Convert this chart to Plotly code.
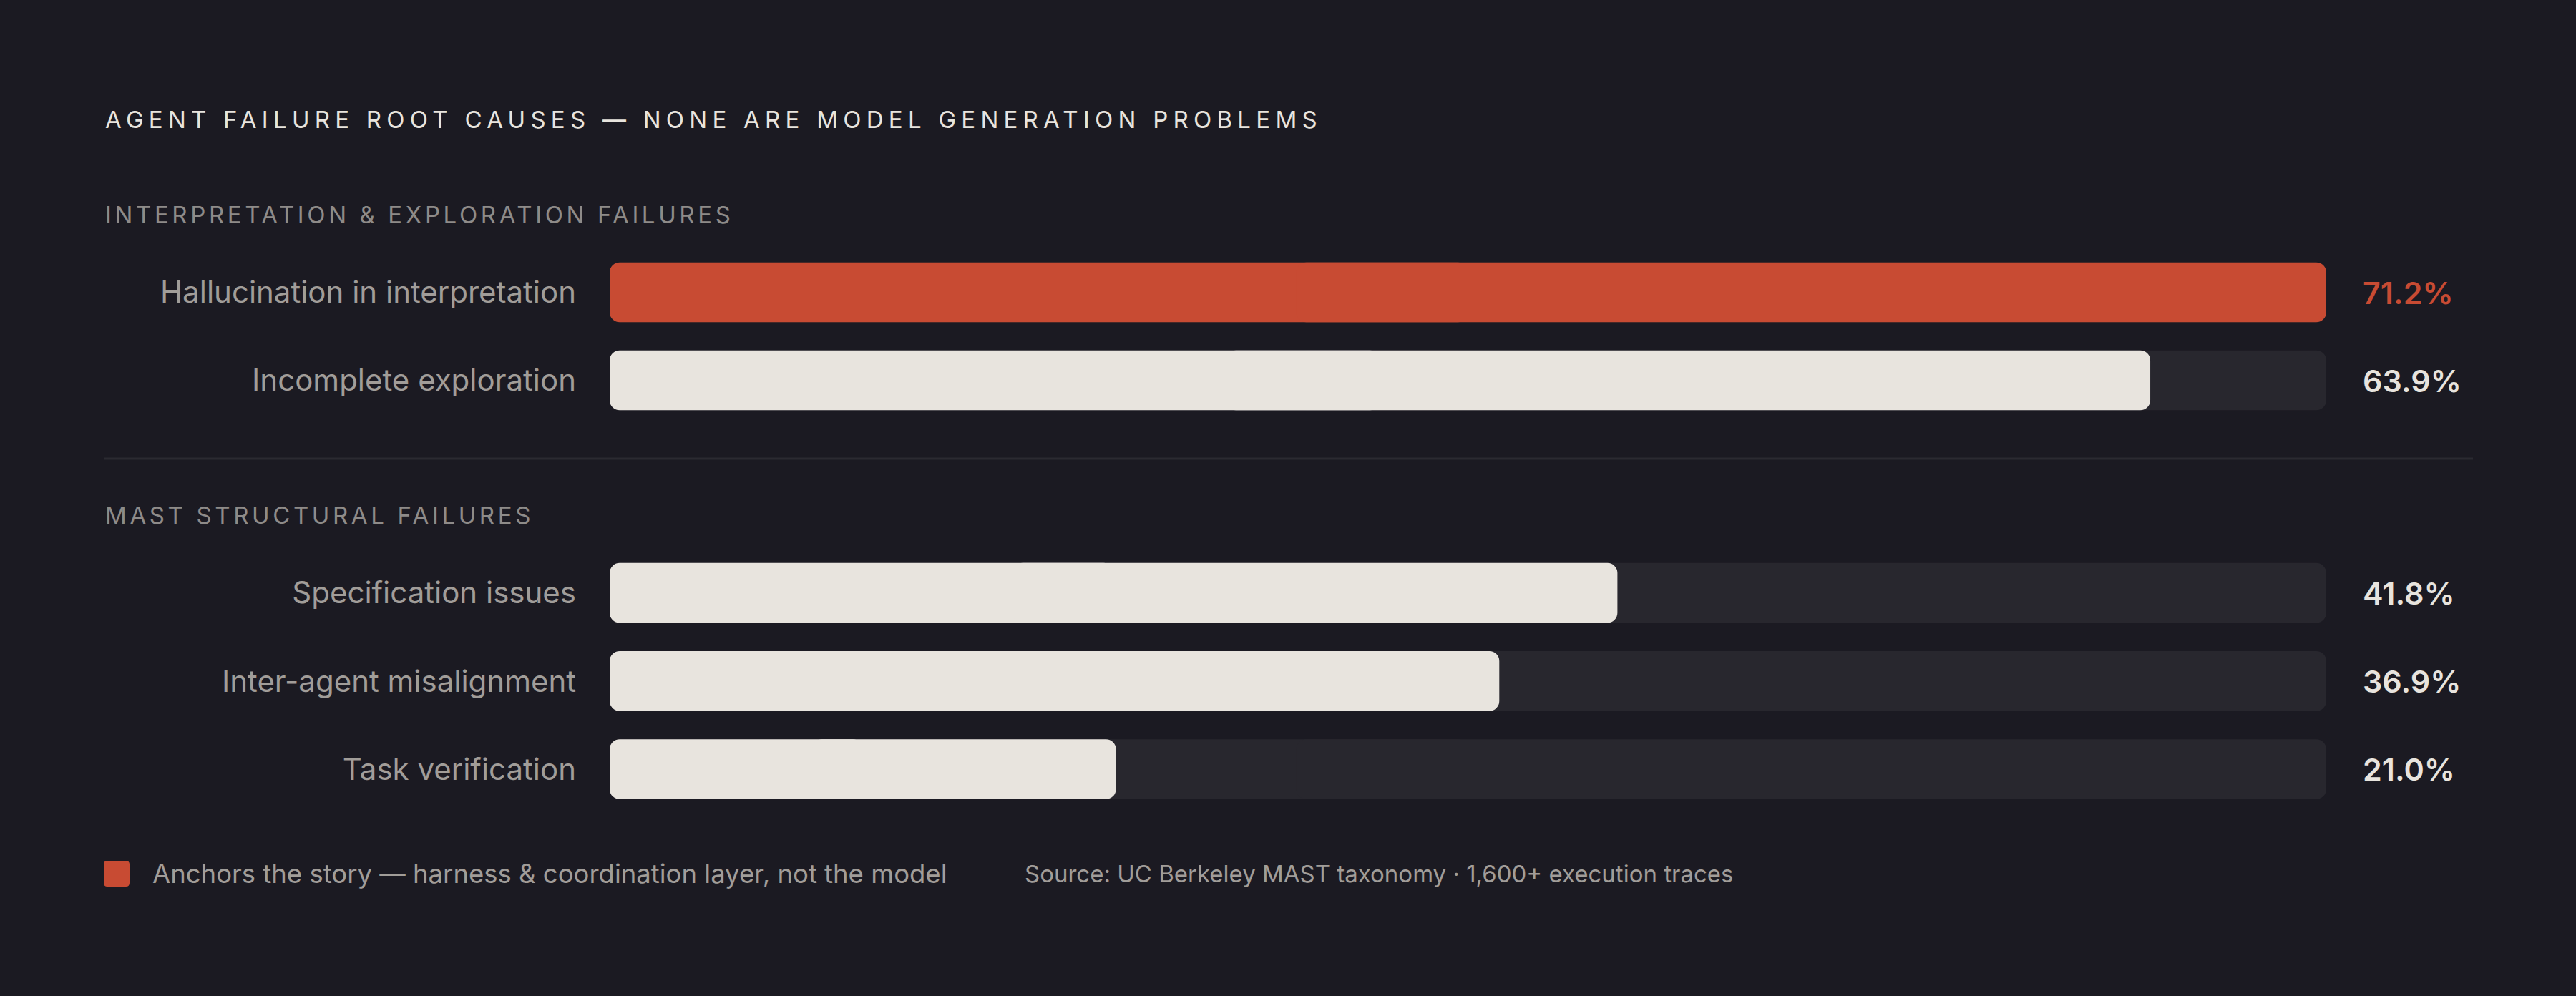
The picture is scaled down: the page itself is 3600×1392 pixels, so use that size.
import plotly.graph_objects as go

# Data
title_text = "AGENT FAILURE ROOT CAUSES — NONE ARE MODEL GENERATION PROBLEMS"
section_names = ["INTERPRETATION & EXPLORATION FAILURES", "MAST STRUCTURAL FAILURES"]

group1_labels = ["Hallucination in interpretation", "Incomplete exploration"]
group1_values = [71.2, 63.9]

group2_labels = ["Specification issues", "Inter-agent misalignment", "Task verification"]
group2_values = [41.8, 36.9, 21.0]

highlight = "Hallucination in interpretation"
legend_note = "Anchors the story — harness & coordination layer, not the model"
source_note = "Source: UC Berkeley MAST taxonomy · 1,600+ execution traces"

# Colours
BG = "#1b1a22"
TRACK = "#28272e"
BAR = "#e8e4de"
ACCENT = "#c84b33"
LABEL = "#a19d99"
SECTION = "#8e8b89"
RULE = "#2b2a31"
FONT = "Inter"

W, H = 3600, 1392
scale_max = max(group1_values + group2_values)
RADIUS = 14
BAR_W = 0.68

fig = go.Figure()


def rounded_bar(labels, lengths, colors, xa, ya, hover=True):
    # plotly only rounds the far end of a bar, so each bar is drawn as a
    # left half growing leftwards from its midpoint plus a right part that
    # overlaps it a little (no seam) -> both ends come out rounded
    mids = [v / 2 for v in lengths]
    starts = [m * 0.8 for m in mids]
    common = dict(y=labels, orientation="h", width=BAR_W, xaxis=xa, yaxis=ya,
                  showlegend=False, customdata=lengths,
                  marker=dict(color=colors, cornerradius=RADIUS, line=dict(width=0)))
    if hover:
        common["hovertemplate"] = "%{y}: %{customdata:.1f}%<extra></extra>"
    else:
        common["hoverinfo"] = "skip"
    fig.add_trace(go.Bar(x=[-m for m in mids], base=mids, **common))
    fig.add_trace(go.Bar(x=[v - s for v, s in zip(lengths, starts)], base=starts, **common))


groups = [
    (group1_labels, group1_values, "x", "y"),
    (group2_labels, group2_values, "x2", "y2"),
]

for labels, values, xa, ya in groups:
    rounded_bar(labels, [scale_max] * len(labels), TRACK, xa, ya, hover=False)
    rounded_bar(labels, values, [ACCENT if l == highlight else BAR for l in labels], xa, ya)
    # value labels right of the track
    for l, v in zip(labels, values):
        fig.add_annotation(
            x=scale_max, y=l, xref=xa, yref=ya, text=f"{v:.1f}%",
            showarrow=False, xanchor="left", xshift=49,
            font=dict(family=FONT, size=43, weight=600,
                      color=ACCENT if l == highlight else BAR),
        )

x_dom = [852 / W, 3251 / W]
axis_x = dict(domain=x_dom, range=[0, scale_max], showgrid=False, zeroline=False,
              showticklabels=False, showline=False, fixedrange=True)
axis_y = dict(autorange="reversed", showgrid=False, zeroline=False, showline=False,
              ticks="", ticklabelstandoff=46, fixedrange=True,
              tickfont=dict(family=FONT, size=42, color=LABEL))

fig.update_layout(
    width=W, height=H,
    paper_bgcolor=BG, plot_bgcolor=BG,
    margin=dict(l=0, r=0, t=0, b=0),
    barmode="overlay",
    showlegend=False,
    xaxis=dict(axis_x, anchor="y"),
    xaxis2=dict(axis_x, anchor="y2"),
    yaxis=dict(axis_y, domain=[1 - 593 / H, 1 - 347 / H], anchor="x"),
    yaxis2=dict(axis_y, domain=[1 - 1136.6 / H, 1 - 767.1 / H], anchor="x2"),
    font=dict(family=FONT, color=LABEL),
)

# Title and section headings
fig.add_annotation(x=145 / W, y=1 - 167.5 / H, xref="paper", yref="paper",
                   text=title_text, showarrow=False, xanchor="left", yanchor="middle",
                   align="left", font=dict(family=FONT, size=33, color=BAR))
for name, yc in zip(section_names, [299.5, 720]):
    fig.add_annotation(x=145 / W, y=1 - yc / H, xref="paper", yref="paper",
                       text=name, showarrow=False, xanchor="left", yanchor="middle",
                       align="left", font=dict(family=FONT, size=33, color=SECTION))

# divider between sections
fig.add_shape(type="line", xref="paper", yref="paper",
              x0=145 / W, x1=3456 / W, y0=1 - 641 / H, y1=1 - 641 / H,
              line=dict(color=RULE, width=3))

# footer: key swatch + notes
fig.add_shape(type="path", xref="paper", yref="paper",
              path=" ".join([
                  f"M {150 / W} {1 - 1203 / H}", f"L {176 / W} {1 - 1203 / H}",
                  f"Q {181 / W} {1 - 1203 / H} {181 / W} {1 - 1208 / H}",
                  f"L {181 / W} {1 - 1234 / H}",
                  f"Q {181 / W} {1 - 1239 / H} {176 / W} {1 - 1239 / H}",
                  f"L {150 / W} {1 - 1239 / H}",
                  f"Q {145 / W} {1 - 1239 / H} {145 / W} {1 - 1234 / H}",
                  f"L {145 / W} {1 - 1208 / H}",
                  f"Q {145 / W} {1 - 1203 / H} {150 / W} {1 - 1203 / H} Z",
              ]),
              fillcolor=ACCENT, line=dict(width=0))
fig.add_annotation(x=211 / W, y=1 - 1221 / H, xref="paper", yref="paper",
                   text=legend_note, showarrow=False, xanchor="left", yanchor="middle",
                   align="left", font=dict(family=FONT, size=36.5, color=LABEL))
fig.add_annotation(x=1430 / W, y=1 - 1221 / H, xref="paper", yref="paper",
                   text=source_note, showarrow=False, xanchor="left", yanchor="middle",
                   align="left", font=dict(family=FONT, size=33, color=LABEL))

# page without the default body margin + wider letter spacing on all-caps headings
js = """
document.body.style.margin = '0';
document.body.style.background = '%s';
var gd = document.getElementById('{plot_id}');
gd.querySelectorAll('text.annotation-text').forEach(function(t) {
  var s = t.textContent;
  if (/[A-Z]{4}/.test(s) && s === s.toUpperCase()) {
    t.style.letterSpacing = s.indexOf('AGENT') === 0 ? '0.22em' : '0.14em';
  }
});
""" % BG

fig.write_html("out.html", post_script=js, config={"displayModeBar": False})
